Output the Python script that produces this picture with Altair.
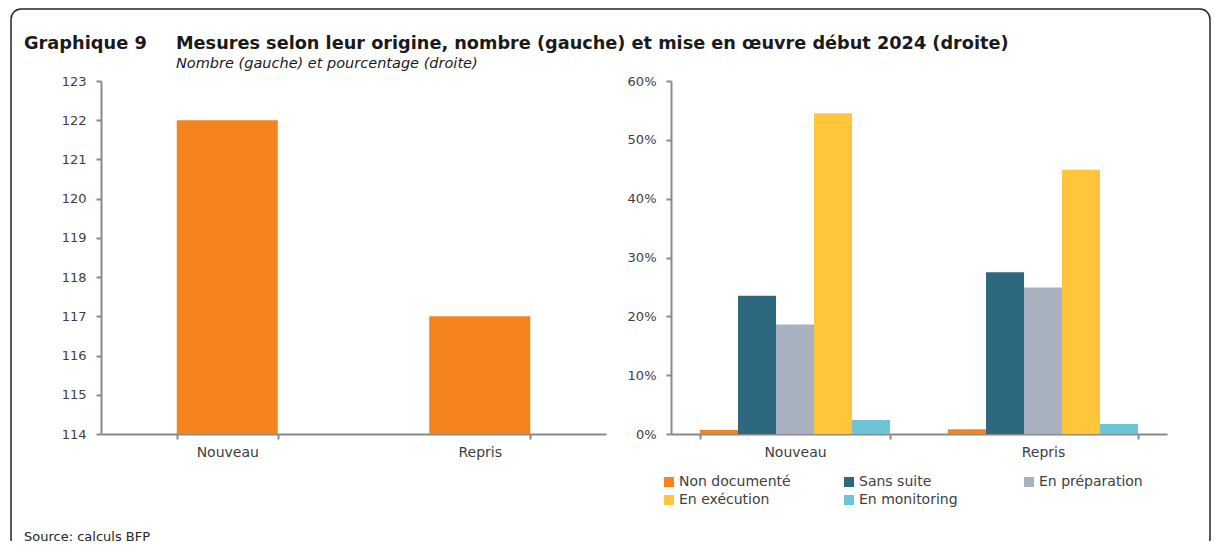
import altair as alt
import pandas as pd

# ---------------- data ----------------
categories = ["Nouveau", "Repris"]
counts = [122, 117]
statuses = ["Non documenté", "Sans suite", "En préparation", "En exécution", "En monitoring"]
pct_nouveau = [0.7, 23.5, 18.6, 54.5, 2.4]
pct_repris = [0.8, 27.5, 24.9, 44.9, 1.7]
colors = ["#F5841F", "#2E687F", "#A7B1BF", "#FFC63B", "#6CC4D5"]
left_ticks = [114, 115, 116, 117, 118, 119, 120, 121, 122, 123]
right_ticks = [0, 10, 20, 30, 40, 50, 60]

title_num = "Graphique 9"
title_main = "Mesures selon leur origine, nombre (gauche) et mise en œuvre début 2024 (droite)"
subtitle = "Nombre (gauche) et pourcentage (droite)"
source = "Source: calculs BFP"

FONT = "DejaVu Sans, sans-serif"
AX = "#898989"
LAB = "#404040"

W1, W2, H = 505, 496, 353

df_left = pd.DataFrame({"cat": categories, "n": counts})
rows = []
for c, vals in zip(categories, [pct_nouveau, pct_repris]):
    for s, v in zip(statuses, vals):
        rows.append({"cat": c, "status": s, "pct": v})
df_right = pd.DataFrame(rows)

one = pd.DataFrame({"a": [0]})


def xaxis():
    return alt.Axis(labelAngle=0, tickBand="extent", title=None, labelPadding=6,
                    labelFontSize=14)


# ---------------- left chart ----------------
bars_l = alt.Chart(df_left).mark_bar(color=colors[0]).encode(
    x=alt.X("cat:N", sort=categories,
            scale=alt.Scale(paddingInner=0.6, paddingOuter=0.3), axis=xaxis()),
    y=alt.Y("n:Q", scale=alt.Scale(domain=[114, 123], zero=False, nice=False),
            axis=alt.Axis(values=left_ticks, title=None, labelPadding=10)),
    y2=alt.datum(114),
)

frame = alt.Chart(one).mark_rect(
    fill="white", fillOpacity=0, stroke="#262626", strokeWidth=1.5,
    cornerRadiusTopLeft=10, cornerRadiusTopRight=10,
).encode(x=alt.value(-90), x2=alt.value(1109), y=alt.value(-72), y2=alt.value(459))

frame_cut = alt.Chart(one).mark_rule(color="white", strokeWidth=4).encode(
    x=alt.value(-89), x2=alt.value(1108), y=alt.value(459)
)

t_num = alt.Chart(pd.DataFrame({"t": [title_num]})).mark_text(
    font=FONT, fontSize=17.8, fontWeight="bold", color="#1a1a1a", align="left", baseline="alphabetic"
).encode(x=alt.value(-77), y=alt.value(-32), text="t:N")

t_main = alt.Chart(pd.DataFrame({"t": [title_main]})).mark_text(
    font=FONT, fontSize=17.7, fontWeight="bold", color="#1a1a1a", align="left", baseline="alphabetic"
).encode(x=alt.value(75), y=alt.value(-32), text="t:N")

t_sub = alt.Chart(pd.DataFrame({"t": [subtitle]})).mark_text(
    font=FONT, fontSize=14.5, fontStyle="italic", color="#1a1a1a", align="left", baseline="alphabetic"
).encode(x=alt.value(75), y=alt.value(-13), text="t:N")

t_src = alt.Chart(pd.DataFrame({"t": [source]})).mark_text(
    font=FONT, fontSize=13, color="#262626", align="left", baseline="alphabetic"
).encode(x=alt.value(-77), y=alt.value(460), text="t:N")

left = alt.layer(frame, frame_cut, bars_l, t_num, t_main, t_sub, t_src).properties(width=W1, height=H)

# ---------------- right chart ----------------
right = alt.Chart(df_right).mark_bar().encode(
    x=alt.X("cat:N", sort=categories,
            scale=alt.Scale(paddingInner=0.234, paddingOuter=0.117), axis=xaxis()),
    xOffset=alt.XOffset("status:N", sort=statuses, scale=alt.Scale(paddingInner=0, paddingOuter=0)),
    y=alt.Y("pct:Q", scale=alt.Scale(domain=[0, 60], nice=False),
            axis=alt.Axis(values=right_ticks, title=None, labelPadding=10,
                          labelExpr="datum.value + '%'")),
    color=alt.Color("status:N", sort=statuses,
                    scale=alt.Scale(domain=statuses, range=colors),
                    legend=alt.Legend(orient="none", legendX=561, legendY=394, columns=3,
                                      direction="horizontal",
                                      gridAlign="all", columnPadding=51, rowPadding=4,
                                      symbolType="square", symbolSize=100, symbolStrokeWidth=0,
                                      labelFont=FONT, labelFontSize=14, labelColor=LAB,
                                      labelOffset=3, title=None)),
).properties(width=W2, height=H)

chart = alt.hconcat(left, right, spacing=65, bounds="flush").configure(
    padding={"left": 2, "top": 0, "right": 0, "bottom": 0},
    background="white",
).configure_view(stroke=None).configure_axis(
    domainColor=AX, domainWidth=2, tickColor=AX, tickWidth=2, tickSize=5,
    labelColor=LAB, labelFont=FONT, labelFontSize=13, grid=False,
)

chart.save("out.html", embed_options={"renderer": "svg", "actions": False})
